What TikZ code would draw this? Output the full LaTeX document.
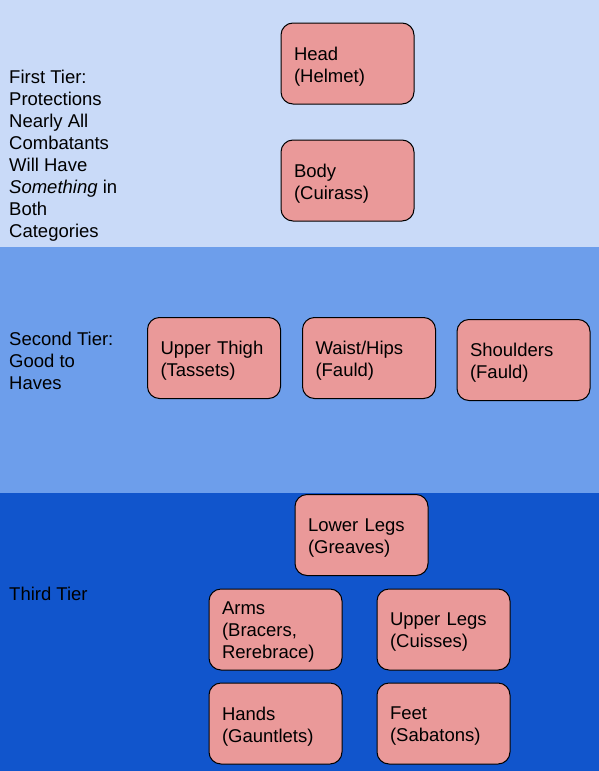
\documentclass[tikz,border=0pt]{standalone}
\usepackage{fontspec}
\setmainfont{Liberation Sans}
\definecolor{TierOne}{HTML}{C9DAF8}
\definecolor{TierTwo}{HTML}{6D9EEB}
\definecolor{TierThree}{HTML}{1155CC}
\definecolor{PartFill}{HTML}{EA9999}
\tikzset{
  parttext/.style={inner sep=0pt,text width=107pt,align=left,yshift=-3pt,
    font=\fontsize{18.5}{22}\selectfont},
  part/.style={draw=black,line width=1pt,fill=PartFill,rounded corners=12pt,
    minimum width=133pt,minimum height=81pt,inner sep=0pt,
    label={[parttext]center:{#1}}},
  tierlabel/.style={anchor=west,inner sep=0pt,align=left,font=\fontsize{18.5}{22}\selectfont}
}
\begin{document}
\begin{tikzpicture}[x=1pt,y=-1pt]
	\useasboundingbox (0,0) rectangle (599,771);
	\coordinate (TopLeft)    at (0,0);
	\coordinate (OneTwo)     at (599,247);
	\coordinate (TwoLeft)    at (0,247);
	\coordinate (TwoThree)   at (599,493);
	\coordinate (ThreeLeft)  at (0,493);
	\coordinate (BottomRight) at (599,771);

	\fill[TierOne]   (TopLeft) rectangle (OneTwo);
	\fill[TierTwo]   (TwoLeft) rectangle (TwoThree);
	\fill[TierThree] (ThreeLeft) rectangle (BottomRight);

	\node[tierlabel] (FirstTier) at (9,156) {First Tier:\\Protections\\Nearly All\\Combatants\\Will Have\\\textit{Something} in\\Both\\Categories};
	\node[tierlabel] (SecondTier) at (9,361) {Second Tier:\\Good to\\Haves};
	\node[tierlabel] (ThirdTier) at (9,594) {Third Tier};

	\node[part={Head\\(Helmet)}]  (Head) at (347.5,63.5)  {};
	\node[part={Body\\(Cuirass)}] (Body) at (347.5,180.5) {};

	\node[part={Upper Thigh\\(Tassets)}] (UpperThigh) at (214,358)   {};
	\node[part={Waist/Hips\\(Fauld)}]    (WaistHips)  at (369,358)   {};
	\node[part={Shoulders\\(Fauld)}]     (Shoulders)  at (523.5,360) {};

	\node[part={Lower Legs\\(Greaves)}]          (LowerLegs) at (361.5,535)   {};
	\node[part={Arms\\(Bracers,\\Rerebrace)}]    (Arms)      at (275.5,629.5) {};
	\node[part={Upper Legs\\(Cuisses)}]          (UpperLegs) at (443.5,629.5) {};
	\node[part={Hands\\(Gauntlets)}]             (Hands)     at (275.5,723.5) {};
	\node[part={Feet\\(Sabatons)}]               (Feet)      at (443.5,723.5) {};
\end{tikzpicture}
\end{document}
